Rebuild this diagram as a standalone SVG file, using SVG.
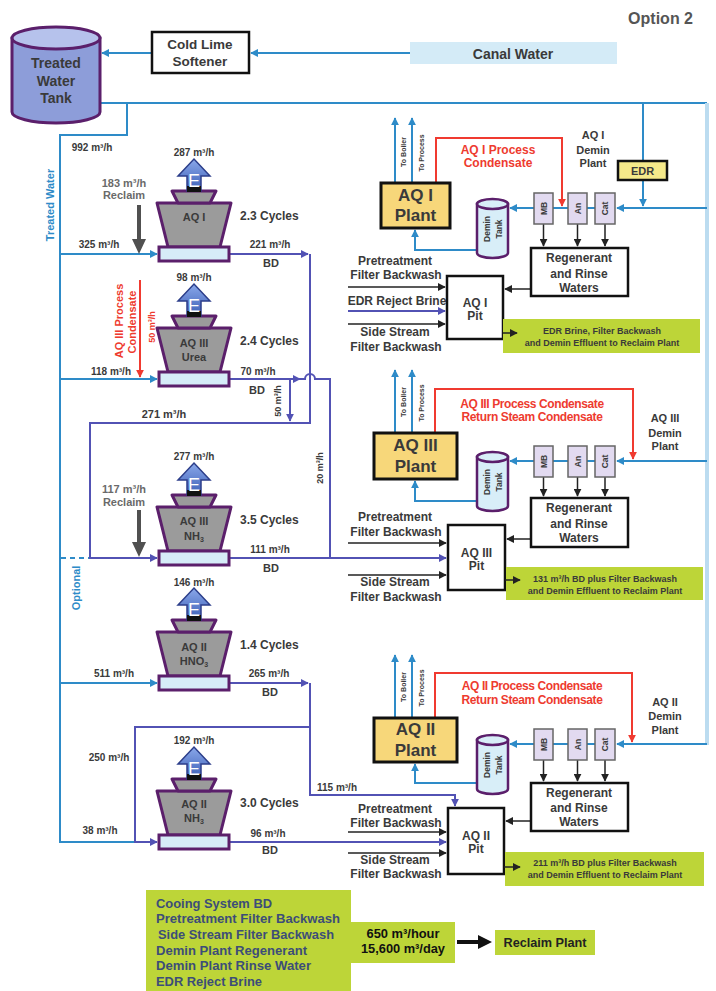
<svg xmlns="http://www.w3.org/2000/svg" width="716" height="991" viewBox="0 0 716 991">
<defs>
<style>
text{font-family:"Liberation Sans",Arial,sans-serif;font-weight:bold;fill:#3a3a3a}
.c{text-anchor:middle}
.f7{font-size:7px}
.f8{font-size:8.5px}
.f9{font-size:9px}
.f10{font-size:10px}
.f11{font-size:11px}
.f12{font-size:12px}
.f14{font-size:14px}
.f18{font-size:17px}
.tb{fill:#2e8bc8}
.tr{fill:#ee3b2f}
.tg{fill:#6a6a6a}
.pb{fill:none;stroke:#2e8bc8;stroke-width:2}
.pp{fill:none;stroke:#5252b4;stroke-width:2}
.pr{fill:none;stroke:#f03a30;stroke-width:2}
.pk{fill:none;stroke:#222;stroke-width:1.5}
.box{fill:#fff;stroke:#111;stroke-width:2.5}
.plant{fill:#f7d77a;stroke:#111;stroke-width:3}
.ion{fill:#e2daf0;stroke:#666;stroke-width:1.5}
.grn{fill:#bdd538}
.tank{fill:#d8eef8;stroke:#5b1f6b;stroke-width:2.5}
.twr{fill:#9b9b9b;stroke:#5b1f6b;stroke-width:3;stroke-linejoin:round}
.bas{fill:#d6ecf8;stroke:#5b1f6b;stroke-width:3}
</style>
<linearGradient id="eg" x1="0" y1="0" x2="0" y2="1">
<stop offset="0" stop-color="#8aa8ea"/>
<stop offset="1" stop-color="#3d5fb6"/>
</linearGradient>
<marker id="ab" viewBox="0 0 10 10" refX="9" refY="5" markerWidth="8" markerHeight="8" markerUnits="userSpaceOnUse" orient="auto"><path d="M0,0 L10,5 L0,10 z" fill="#2e8bc8"/></marker>
<marker id="ap" viewBox="0 0 10 10" refX="9" refY="5" markerWidth="8" markerHeight="8" markerUnits="userSpaceOnUse" orient="auto"><path d="M0,0 L10,5 L0,10 z" fill="#5252b4"/></marker>
<marker id="ar" viewBox="0 0 10 10" refX="9" refY="5" markerWidth="8" markerHeight="8" markerUnits="userSpaceOnUse" orient="auto"><path d="M0,0 L10,5 L0,10 z" fill="#f03a30"/></marker>
<marker id="ak" viewBox="0 0 10 10" refX="9" refY="5" markerWidth="8" markerHeight="8" markerUnits="userSpaceOnUse" orient="auto"><path d="M0,0 L10,5 L0,10 z" fill="#222"/></marker>
<g id="tw">
<path d="M157,-51 L231,-51 L220,-7 L168,-7 Z" class="twr"/>
<path d="M172,-63 L216,-63 L210,-51 L178,-51 Z" class="twr" fill="#a8a8a8"/>
<rect x="159" y="-7" width="70" height="14" class="bas"/>
<path d="M178,-78 L194,-95 L210,-78 L201,-78 L201,-63 L187,-63 L187,-78 Z" fill="url(#eg)" stroke="#2c3e8a" stroke-width="1.5"/>
<rect x="187" y="-68" width="14" height="6" fill="#111"/>
<text x="194" y="-67" class="c" style="font-size:18px;font-weight:normal;fill:#fff">E</text>
</g>
<g id="dt">
<path d="M477,0 V49 A15.5,5 0 0 0 508,49 V0 Z" class="tank"/>
<ellipse cx="492.5" cy="0" rx="15.5" ry="5" class="tank"/>
</g>
</defs>
<rect width="716" height="991" fill="#fff"/>

<text x="693" y="24" class="f14" style="font-size:16px;text-anchor:end;fill:#555">Option 2</text>

<g id="connectors">
<path d="M410,53 H251" class="pb" marker-end="url(#ab)"/>
<path d="M152,53 H102" class="pb" marker-end="url(#ab)"/>
<path d="M100,103 H707" class="pb"/>
<path d="M707,103 V745" fill="none" stroke="#bcdcf0" stroke-width="4"/>
<path d="M127,103 V135 H60 V842 H135" class="pb"/>
<path d="M60,254 H157" class="pb" marker-end="url(#ab)"/>
<path d="M60,379 H157" class="pb" marker-end="url(#ab)"/>
<path d="M60,683 H157" class="pb" marker-end="url(#ab)"/>
<path d="M61,558 H90" class="pb" stroke-dasharray="5,4"/>
<path d="M140,280 V377" class="pr" marker-end="url(#ar)"/>
<path d="M139,205 V240" stroke="#505050" stroke-width="4"/>
<path d="M132,239 L146,239 L139,254 Z" fill="#505050"/>
<path d="M139,510 V543" stroke="#505050" stroke-width="4"/>
<path d="M132,542 L146,542 L139,557 Z" fill="#505050"/>
<path d="M229,254 H308" class="pp" marker-end="url(#ap)"/>
<path d="M310,254 V423 H90 V558 H157" class="pp" marker-end="url(#ap)"/>
<path d="M229,379 H300" class="pp" marker-end="url(#ap)"/>
<path d="M300,379 H305 A5,5 0 0 1 315,379 H330 V558" class="pp"/>
<path d="M290,379 V421" class="pp" marker-end="url(#ap)"/>
<path d="M229,558 H446" class="pp" marker-end="url(#ap)"/>
<path d="M229,683 H308" class="pp" marker-end="url(#ap)"/>
<path d="M310,683 V795 H455 V806" class="pp" marker-end="url(#ap)"/>
<path d="M310,727 H135 V842 H157" class="pp" marker-end="url(#ap)"/>
<path d="M229,842 H446" class="pp" marker-end="url(#ap)"/>

<path d="M395,183 V118" class="pb" marker-end="url(#ab)"/>
<path d="M412,183 V118" class="pb" marker-end="url(#ab)"/>
<path d="M436,183 V138 H562 V206" class="pr" marker-end="url(#ar)"/>
<path d="M707,208 H617" class="pb" marker-end="url(#ab)"/>
<path d="M595,208 H510" class="pb" marker-end="url(#ab)"/>
<path d="M643,103 V206" class="pb" marker-end="url(#ab)"/>
<path d="M477,250 H415 V230" class="pb" marker-end="url(#ab)"/>
<path d="M543.5,224 V246" class="pk" marker-end="url(#ak)"/>
<path d="M577.5,224 V246" class="pk" marker-end="url(#ak)"/>
<path d="M605,224 V246" class="pk" marker-end="url(#ak)"/>
<path d="M531,289 H505" class="pk" marker-end="url(#ak)"/>
<path d="M348,287 H445" class="pk" marker-end="url(#ak)"/>
<path d="M348,311 H445" class="pp" marker-end="url(#ap)"/>
<path d="M348,324 H445" class="pk" marker-end="url(#ak)"/>

<path d="M395,433 V370" class="pb" marker-end="url(#ab)"/>
<path d="M412,433 V370" class="pb" marker-end="url(#ab)"/>
<path d="M435,433 V389 H633 V459" class="pr" marker-end="url(#ar)"/>
<path d="M707,461 H617" class="pb" marker-end="url(#ab)"/>
<path d="M595,461 H510" class="pb" marker-end="url(#ab)"/>
<path d="M477,501 H415 V481" class="pb" marker-end="url(#ab)"/>
<path d="M543.5,477 V496" class="pk" marker-end="url(#ak)"/>
<path d="M577.5,477 V496" class="pk" marker-end="url(#ak)"/>
<path d="M605,477 V496" class="pk" marker-end="url(#ak)"/>
<path d="M531,539 H507" class="pk" marker-end="url(#ak)"/>
<path d="M348,543 H446" class="pk" marker-end="url(#ak)"/>
<path d="M348,575 H446" class="pk" marker-end="url(#ak)"/>

<path d="M395,718 V655" class="pb" marker-end="url(#ab)"/>
<path d="M412,718 V655" class="pb" marker-end="url(#ab)"/>
<path d="M435,718 V673 H632 V742" class="pr" marker-end="url(#ar)"/>
<path d="M707,744 H617" class="pb" marker-end="url(#ab)"/>
<path d="M595,744 H510" class="pb" marker-end="url(#ab)"/>
<path d="M477,783 H415 V764" class="pb" marker-end="url(#ab)"/>
<path d="M543.5,760 V781" class="pk" marker-end="url(#ak)"/>
<path d="M577.5,760 V781" class="pk" marker-end="url(#ak)"/>
<path d="M605,760 V781" class="pk" marker-end="url(#ak)"/>
<path d="M531,821 H506" class="pk" marker-end="url(#ak)"/>
<path d="M348,832 H446" class="pk" marker-end="url(#ak)"/>
<path d="M348,853 H446" class="pk" marker-end="url(#ak)"/>

<path d="M457,942 H480" stroke="#111" stroke-width="4"/>
<path d="M478,935 L492,942 L478,949 Z" fill="#111"/>

<text x="92" y="151" class="f10 c">992 m³/h</text>
<text class="f11 c tb" transform="translate(54,205) rotate(-90)">Treated Water</text>
<text class="f11 c tb" transform="translate(80,588) rotate(-90)">Optional</text>
<text x="99" y="248" class="f10 c">325 m³/h</text>
<text x="124" y="187" class="f11 c tg">183 m³/h</text>
<text x="124" y="199" class="f11 c tg">Reclaim</text>
<text x="270" y="248" class="f10 c">221 m³/h</text>
<text x="271" y="267" class="f11 c">BD</text>
<text x="111" y="375" class="f10 c">118 m³/h</text>
<text class="f11 c tr" transform="translate(123,321) rotate(-90)">AQ III Process</text>
<text class="f11 c tr" transform="translate(136,322) rotate(-90)">Condensate</text>
<text class="f9 c tr" transform="translate(155,327) rotate(-90)">50 m³/h</text>
<text x="258" y="375" class="f10 c">70 m³/h</text>
<text x="257" y="394" class="f11 c">BD</text>
<text class="f9 c" transform="translate(281,401) rotate(-90)">50 m³/h</text>
<text x="164" y="418" class="f11 c">271 m³/h</text>
<text class="f9 c" transform="translate(323,468) rotate(-90)">20 m³/h</text>
<text x="124" y="493" class="f11 c tg">117 m³/h</text>
<text x="124" y="506" class="f11 c tg">Reclaim</text>
<text x="270" y="553" class="f10 c">111 m³/h</text>
<text x="271" y="572" class="f11 c">BD</text>
<text x="114" y="677" class="f10 c">511 m³/h</text>
<text x="269" y="677" class="f10 c">265 m³/h</text>
<text x="270" y="696" class="f11 c">BD</text>
<text x="109" y="761" class="f10 c">250 m³/h</text>
<text x="337" y="791" class="f10 c">115 m³/h</text>
<text x="100" y="834" class="f10 c">38 m³/h</text>
<text x="268" y="837" class="f10 c">96 m³/h</text>
<text x="270" y="854" class="f11 c">BD</text>
</g>

<g id="treated-water-tank">
<path d="M12,38 V112 A44,11 0 0 0 100,112 V38 Z" fill="#8d9dd9" stroke="#5b1f6b" stroke-width="3"/>
<ellipse cx="56" cy="38" rx="44" ry="11" fill="#b6c2ec" stroke="#5b1f6b" stroke-width="3"/>
<text x="56" y="68" class="f14 c">Treated</text>
<text x="56" y="86" class="f14 c">Water</text>
<text x="56" y="103" class="f14 c">Tank</text>
</g>

<g id="cold-lime-softener">
<rect x="152" y="32" width="97" height="41" class="box"/>
<text x="200" y="49" class="f14 c" style="font-size:13.5px">Cold Lime</text>
<text x="200" y="66" class="f14 c" style="font-size:13.5px">Softener</text>
</g>

<g id="canal-water">
<rect x="410" y="42" width="207" height="22" fill="#d4ebf7"/>
<text x="513" y="59" class="f14 c">Canal Water</text>
</g>

<g id="tower-aq1">
<use href="#tw" transform="translate(0,254)"/>
<text x="194" y="156" class="f10 c">287 m³/h</text>
<text x="194" y="221" class="f11 c">AQ I</text>
<text x="240" y="220" class="f12">2.3 Cycles</text>
</g>

<g id="tower-aq3-urea">
<use href="#tw" transform="translate(0,379)"/>
<text x="194" y="281" class="f10 c">98 m³/h</text>
<text x="194" y="347" class="f11 c">AQ III</text>
<text x="194" y="361" class="f11 c">Urea</text>
<text x="240" y="345" class="f12">2.4 Cycles</text>
</g>

<g id="tower-aq3-nh3">
<use href="#tw" transform="translate(0,558)"/>
<text x="194" y="460" class="f10 c">277 m³/h</text>
<text x="194" y="525" class="f11 c">AQ III</text>
<text x="194" y="540" class="f11 c">NH<tspan dy="2" style="font-size:7px">3</tspan></text>
<text x="240" y="524" class="f12">3.5 Cycles</text>
</g>

<g id="tower-aq2-hno3">
<use href="#tw" transform="translate(0,683)"/>
<text x="194" y="586" class="f10 c">146 m³/h</text>
<text x="194" y="651" class="f11 c">AQ II</text>
<text x="194" y="665" class="f11 c">HNO<tspan dy="2" style="font-size:7px">3</tspan></text>
<text x="240" y="649" class="f12">1.4 Cycles</text>
</g>

<g id="tower-aq2-nh3">
<use href="#tw" transform="translate(0,842)"/>
<text x="194" y="744" class="f10 c">192 m³/h</text>
<text x="194" y="808" class="f11 c">AQ II</text>
<text x="194" y="822" class="f11 c">NH<tspan dy="2" style="font-size:7px">3</tspan></text>
<text x="240" y="807" class="f12">3.0 Cycles</text>
</g>

<g id="aq1-plant">
<rect x="381" y="183" width="69" height="45" class="plant"/>
<text x="415.5" y="201" class="f18 c">AQ I</text>
<text x="415.5" y="221" class="f18 c">Plant</text>
<text class="f7 c" transform="translate(406,152) rotate(-90)">To Boiler</text>
<text class="f7 c" transform="translate(424,153) rotate(-90)">To Process</text>
<text x="498" y="154" class="f12 c tr">AQ I Process</text>
<text x="498" y="167" class="f12 c tr">Condensate</text>
</g>
<g id="aq1-demin">
<text x="593" y="139" class="f11 c">AQ I</text>
<text x="593" y="154" class="f11 c">Demin</text>
<text x="593" y="167" class="f11 c">Plant</text>
<rect x="618" y="161" width="49" height="19" fill="#f5e98a" stroke="#111" stroke-width="2.5"/>
<text x="642.5" y="175" class="f11 c">EDR</text>
<rect x="534" y="193" width="19" height="31" class="ion"/>
<rect x="568" y="193" width="19" height="31" class="ion"/>
<rect x="595" y="193" width="20" height="31" class="ion"/>
<text class="f8 c" transform="translate(546.5,208.5) rotate(-90)">MB</text>
<text class="f8 c" transform="translate(580.5,208.5) rotate(-90)">An</text>
<text class="f8 c" transform="translate(608,208.5) rotate(-90)">Cat</text>
<use href="#dt" transform="translate(0,204)"/>
<text class="f8 c" transform="translate(490,229) rotate(-90)">Demin</text>
<text class="f8 c" transform="translate(502,229) rotate(-90)">Tank</text>
<rect x="531" y="248" width="97" height="48" class="box"/>
<text x="579" y="262" class="f12 c">Regenerant</text>
<text x="579" y="278" class="f12 c">and Rinse</text>
<text x="579" y="292" class="f12 c">Waters</text>
</g>
<g id="aq1-pit">
<text x="395" y="265" class="f12 c">Pretreatment</text>
<text x="396" y="279" class="f12 c">Filter Backwash</text>
<text x="397" y="305" class="f12 c">EDR Reject Brine</text>
<text x="395" y="336" class="f12 c">Side Stream</text>
<text x="396" y="351" class="f12 c">Filter Backwash</text>
<rect x="447" y="276" width="56" height="63" class="box"/>
<text x="475" y="307" class="f12 c">AQ I</text>
<text x="475" y="320" class="f12 c">Pit</text>
<rect x="503" y="319" width="197" height="34" class="grn"/>
<path d="M503,333 H517" class="pk" marker-end="url(#ak)"/>
<text x="602" y="334" class="f9 c">EDR Brine, Filter Backwash</text>
<text x="602" y="346" class="f9 c">and Demin Effluent to Reclaim Plant</text>
</g>

<g id="aq3-plant">
<rect x="374" y="433" width="83" height="46" class="plant"/>
<text x="415.5" y="451" class="f18 c">AQ III</text>
<text x="415.5" y="472" class="f18 c">Plant</text>
<text class="f7 c" transform="translate(406,402) rotate(-90)">To Boiler</text>
<text class="f7 c" transform="translate(424,403) rotate(-90)">To Process</text>
<text x="532" y="408" class="f12 c tr" style="letter-spacing:-0.4px">AQ III Process Condensate</text>
<text x="532" y="421" class="f12 c tr" style="letter-spacing:-0.4px">Return Steam Condensate</text>
</g>
<g id="aq3-demin">
<text x="665" y="422" class="f11 c">AQ III</text>
<text x="665" y="437" class="f11 c">Demin</text>
<text x="665" y="450" class="f11 c">Plant</text>
<rect x="534" y="446" width="19" height="31" class="ion"/>
<rect x="568" y="446" width="19" height="31" class="ion"/>
<rect x="595" y="446" width="20" height="31" class="ion"/>
<text class="f8 c" transform="translate(546.5,461.5) rotate(-90)">MB</text>
<text class="f8 c" transform="translate(580.5,461.5) rotate(-90)">An</text>
<text class="f8 c" transform="translate(608,461.5) rotate(-90)">Cat</text>
<use href="#dt" transform="translate(0,457)"/>
<text class="f8 c" transform="translate(490,482) rotate(-90)">Demin</text>
<text class="f8 c" transform="translate(502,482) rotate(-90)">Tank</text>
<rect x="531" y="498" width="97" height="49" class="box"/>
<text x="579" y="512" class="f12 c">Regenerant</text>
<text x="579" y="528" class="f12 c">and Rinse</text>
<text x="579" y="542" class="f12 c">Waters</text>
</g>
<g id="aq3-pit">
<text x="395" y="521" class="f12 c">Pretreatment</text>
<text x="396" y="536" class="f12 c">Filter Backwash</text>
<text x="395" y="586" class="f12 c">Side Stream</text>
<text x="396" y="601" class="f12 c">Filter Backwash</text>
<rect x="448" y="525" width="57" height="65" class="box"/>
<text x="476.5" y="557" class="f12 c">AQ III</text>
<text x="476.5" y="570" class="f12 c">Pit</text>
<rect x="506" y="567" width="197" height="33" class="grn"/>
<path d="M505,580 H520" class="pk" marker-end="url(#ak)"/>
<text x="605" y="582" class="f9 c">131 m³/h BD plus Filter Backwash</text>
<text x="605" y="594" class="f9 c">and Demin Effluent to Reclaim Plant</text>
</g>

<g id="aq2-plant">
<rect x="374" y="718" width="83" height="44" class="plant"/>
<text x="415.5" y="735" class="f18 c">AQ II</text>
<text x="415.5" y="756" class="f18 c">Plant</text>
<text class="f7 c" transform="translate(406,687) rotate(-90)">To Boiler</text>
<text class="f7 c" transform="translate(424,688) rotate(-90)">To Process</text>
<text x="532" y="690" class="f12 c tr" style="letter-spacing:-0.4px">AQ II Process Condensate</text>
<text x="532" y="704" class="f12 c tr" style="letter-spacing:-0.4px">Return Steam Condensate</text>
</g>
<g id="aq2-demin">
<text x="665" y="706" class="f11 c">AQ II</text>
<text x="665" y="720" class="f11 c">Demin</text>
<text x="665" y="734" class="f11 c">Plant</text>
<rect x="534" y="729" width="19" height="31" class="ion"/>
<rect x="568" y="729" width="19" height="31" class="ion"/>
<rect x="595" y="729" width="20" height="31" class="ion"/>
<text class="f8 c" transform="translate(546.5,744.5) rotate(-90)">MB</text>
<text class="f8 c" transform="translate(580.5,744.5) rotate(-90)">An</text>
<text class="f8 c" transform="translate(608,744.5) rotate(-90)">Cat</text>
<use href="#dt" transform="translate(0,740)"/>
<text class="f8 c" transform="translate(490,765) rotate(-90)">Demin</text>
<text class="f8 c" transform="translate(502,765) rotate(-90)">Tank</text>
<rect x="531" y="783" width="97" height="48" class="box"/>
<text x="579" y="797" class="f12 c">Regenerant</text>
<text x="579" y="812" class="f12 c">and Rinse</text>
<text x="579" y="826" class="f12 c">Waters</text>
</g>
<g id="aq2-pit">
<text x="395" y="813" class="f12 c">Pretreatment</text>
<text x="396" y="827" class="f12 c">Filter Backwash</text>
<text x="395" y="864" class="f12 c">Side Stream</text>
<text x="396" y="878" class="f12 c">Filter Backwash</text>
<rect x="448" y="808" width="56" height="66" class="box"/>
<text x="476" y="840" class="f12 c">AQ II</text>
<text x="476" y="853" class="f12 c">Pit</text>
<rect x="505" y="852" width="199" height="34" class="grn"/>
<path d="M504,867 H520" class="pk" marker-end="url(#ak)"/>
<text x="605" y="866" class="f9 c">211 m³/h BD plus Filter Backwash</text>
<text x="605" y="878" class="f9 c">and Demin Effluent to Reclaim Plant</text>
</g>

<g id="summary">
<rect x="146" y="890" width="205" height="101" class="grn"/>
<rect x="351" y="922" width="104" height="41" class="grn"/>
<g style="font-size:13px">
<text x="156" y="908" style="fill:#3c4d78" textLength="116" lengthAdjust="spacingAndGlyphs">Cooing  System BD</text>
<text x="156" y="923" style="fill:#3c4d78" textLength="184" lengthAdjust="spacingAndGlyphs">Pretreatment Filter Backwash</text>
<text x="158" y="939" style="fill:#3c4d78" textLength="176" lengthAdjust="spacingAndGlyphs">Side Stream Filter Backwash</text>
<text x="156" y="955" style="fill:#3c4d78" textLength="151" lengthAdjust="spacingAndGlyphs">Demin Plant Regenerant</text>
<text x="156" y="970" style="fill:#3c4d78" textLength="155" lengthAdjust="spacingAndGlyphs">Demin Plant Rinse Water</text>
<text x="156" y="986" style="fill:#3c4d78" textLength="106" lengthAdjust="spacingAndGlyphs">EDR  Reject Brine</text>
</g>
<text x="403" y="938" class="f12 c" style="fill:#111" textLength="73" lengthAdjust="spacingAndGlyphs">650 m³/hour</text>
<text x="403" y="953" class="f12 c" style="fill:#111" textLength="84" lengthAdjust="spacingAndGlyphs">15,600 m³/day</text>
</g>
<g id="reclaim-plant">
<rect x="495" y="930" width="100" height="25" class="grn"/>
<text x="545" y="947" class="f12 c" style="font-size:13px;fill:#222" textLength="83" lengthAdjust="spacingAndGlyphs">Reclaim Plant</text>
</g>
</svg>
